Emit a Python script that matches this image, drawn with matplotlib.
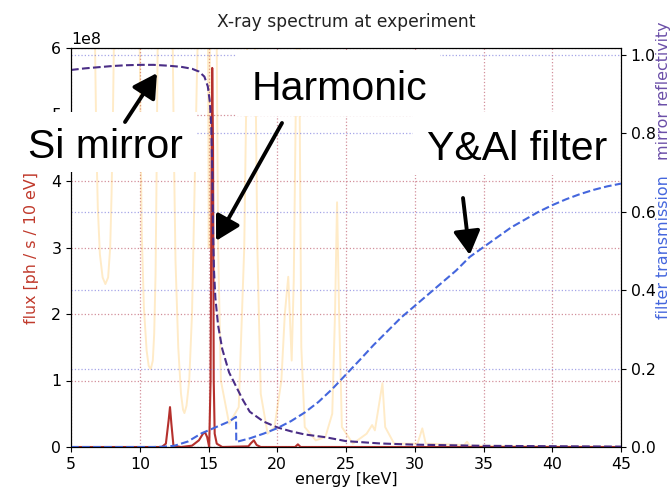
"""
X-ray spectrum at experiment: undulator flux, flux after Si mirror + Y&Al filter,
mirror reflectivity and filter transmission.
"""

import matplotlib
matplotlib.use("Agg")
import matplotlib.pyplot as plt
import numpy as np
from matplotlib.patches import Rectangle, ConnectionPatch

W, H = 671, 488  # figure size in pixels

# Colours
COR_FLUX = "#b5302c"
COR_LABEL_FLUX = "#c0392b"
COR_RAW = "orange"
COR_MIRROR = "#4a2d86"
COR_LABEL_MIRROR = "#6b4fa8"
COR_FILTER = "#4466dd"

# Undulator spectrum before optics [1e8 ph/s/10eV]; harmonic peaks go off scale
raw_energy = [5.0, 5.8, 6.4, 6.75, 6.85, 6.95, 7.1, 7.3, 7.5, 7.7, 7.85, 7.95,
              8.05, 8.15, 8.6, 9.2, 9.7, 10.0, 10.07, 10.15, 10.3, 10.5, 10.65,
              10.8, 10.95, 11.05, 11.15, 11.22, 11.3, 11.8, 12.2, 12.3, 12.4,
              12.48, 12.6, 12.8, 13.0, 13.15, 13.25, 13.4, 13.6, 13.8, 13.95,
              14.1, 14.2, 14.7, 14.95, 15.02, 15.1, 15.3, 15.5, 15.6, 15.7,
              15.9, 16.5, 17.2, 17.6, 17.8, 18.2, 18.4, 18.55, 18.8, 19.3,
              19.8, 20.3, 20.55, 20.8, 20.95, 21.05, 21.2, 21.4, 21.5, 21.6,
              21.75, 22.0, 22.8, 23.5, 24.0, 24.2, 24.35, 24.5, 24.7, 25.5,
              26.5, 26.9, 27.1, 27.45, 27.65, 27.85, 28.5, 30.2, 30.55, 30.8,
              33.6, 33.8, 34.0, 45.0]
raw_flux = [8.0, 11.0, 8.0, 6.0, 4.5, 3.6, 2.9, 2.55, 2.45, 2.55, 3.0, 3.8,
            5.0, 6.5, 10.0, 11.0, 8.0, 6.0, 4.5, 3.2, 2.1, 1.45, 1.22,
            1.17, 1.3, 1.7, 2.6, 4.0, 6.0, 12.0, 14.0, 9.0, 6.0,
            4.5, 2.8, 1.5, 0.8, 0.56, 0.51, 0.62, 1.0, 2.0, 3.5,
            5.0, 6.0, 12.0, 7.0, 3.0, 6.0, 20.0, 8.0, 6.0, 3.0,
            1.0, 0.35, 0.6, 3.0, 6.0, 12.0, 6.0, 3.0, 0.8, 0.2,
            0.3, 1.0, 2.0, 2.56, 1.8, 1.3, 2.5, 6.0, 9.0, 6.0,
            1.5, 0.3, 0.1, 0.15, 0.5, 2.0, 3.68, 2.0, 0.3, 0.05,
            0.2, 0.33, 0.25, 0.7, 0.96, 0.3, 0.05, 0.05, 0.28, 0.05,
            0.03, 0.08, 0.02, 0.0]

# Flux at experiment [1e8 ph/s/10eV]
flux_energy = [5.0, 11.6, 11.9, 12.1, 12.2, 12.3, 12.45, 13.0, 13.8, 14.3,
               14.6, 14.75, 14.9, 15.0, 15.05, 15.15, 15.22, 15.27, 15.33,
               15.38, 15.45, 15.6, 16.0, 17.9, 18.1, 18.3, 18.5, 18.8, 21.3,
               21.5, 21.7, 45.0]
flux_value = [0.0, 0.0, 0.05, 0.4, 0.6, 0.35, 0.02, 0.0, 0.02, 0.1,
              0.2, 0.22, 0.15, 0.05, 0.0, 1.0, 4.0, 5.7, 4.5,
              1.0, 0.2, 0.05, 0.0, 0.01, 0.06, 0.1, 0.03, 0.0, 0.0,
              0.04, 0.0, 0.0]

# Si mirror reflectivity
mirror_energy = [5.0, 6.0, 7.0, 8.0, 9.0, 10.0, 11.0, 12.0, 13.0, 13.8, 14.3,
                 14.7, 14.95, 15.1, 15.2, 15.28, 15.33, 15.4, 15.5, 15.7, 16.0,
                 16.5, 17.0, 17.5, 18.0, 19.0, 20.0, 21.0, 22.0, 23.5, 25.0,
                 27.5, 30.0, 35.0, 40.0, 45.0]
mirror_refl = [0.962, 0.966, 0.969, 0.972, 0.974, 0.975, 0.975, 0.973, 0.97,
               0.965, 0.958, 0.945, 0.92, 0.88, 0.82, 0.7, 0.55, 0.45, 0.38,
               0.31, 0.25, 0.19, 0.155, 0.12, 0.09, 0.065, 0.05, 0.04, 0.032,
               0.025, 0.015, 0.009, 0.006, 0.003, 0.002, 0.001]

# Y&Al filter transmission (Y K-edge at 17 keV)
filter_energy = [5.0, 11.0, 11.8, 12.5, 13.5, 14.5, 15.5, 16.5, 17.0, 17.02,
                 18.0, 19.0, 20.0, 21.0, 22.0, 23.0, 24.0, 25.0, 26.0, 27.0,
                 28.0, 29.0, 30.0, 31.0, 32.0, 33.0, 34.0, 35.0, 36.0, 37.0,
                 38.0, 39.0, 40.0, 41.0, 42.0, 43.0, 44.0, 45.0]
filter_trans = [0.0, 0.0, 0.001, 0.003, 0.014, 0.035, 0.05, 0.065, 0.077, 0.013,
                0.022, 0.034, 0.048, 0.066, 0.088, 0.115, 0.148, 0.185, 0.222,
                0.26, 0.295, 0.33, 0.36, 0.39, 0.42, 0.45, 0.485, 0.51, 0.535,
                0.56, 0.58, 0.6, 0.617, 0.632, 0.645, 0.656, 0.665, 0.672]


def px(x, y):
    """Pixel position (from top-left) -> figure fraction."""
    return (x / W, 1 - y / H)


fig = plt.figure(figsize=(W / 100, H / 100), dpi=100)
ax = fig.add_axes([71 / W, 1 - 447 / H, 550 / W, 399 / H])
ax2 = ax.twinx()

# Curves on the flux axis
ax.plot(raw_energy, np.array(raw_flux) * 1e8, color=COR_RAW, alpha=0.22, lw=1.4)
ax.plot(flux_energy, np.array(flux_value) * 1e8, color=COR_FLUX, lw=1.5)

# Curves on the right axis
ax2.plot(mirror_energy, mirror_refl, color=COR_MIRROR, ls="--", lw=1.5)
ax2.plot(filter_energy, filter_trans, color=COR_FILTER, ls="--", lw=1.5)

ax.set_xlim(5, 45)
ax.set_ylim(0, 6e8)
ax2.set_ylim(0, 1.018)

ax.grid(True, color="#c06070", ls=":", lw=0.9, alpha=0.7)
ax2.grid(True, color="#6a6ad8", ls=":", lw=0.9, alpha=0.6)

ax.tick_params(labelsize=11.3)
ax2.tick_params(labelsize=11.3)
ax.yaxis.get_offset_text().set_fontsize(11.3)

ax.set_xlabel("energy [keV]", fontsize=11.4, labelpad=0)
ax.set_ylabel("flux [ph / s / 10 eV]", fontsize=11.4, color=COR_LABEL_FLUX)
ax.yaxis.set_label_coords(-0.058, 0.5)
ax.set_title("X-ray spectrum at experiment", fontsize=12.3, pad=15, color="#222222")

ax2.text(1.078, 0.892, "mirror reflectivity", rotation=90, transform=ax.transAxes,
         ha="center", va="center", fontsize=11.4, color=COR_LABEL_MIRROR)
ax2.text(1.078, 0.50, "filter transmission", rotation=90, transform=ax.transAxes,
         ha="center", va="center", fontsize=11.4, color=COR_FILTER)

# White callout boxes with big labels (drawn over the axes)
caixas = [
    ((20, 112), (197, 172), "Si mirror", (28, 158)),
    ((237, 50), (440, 116), "Harmonic", (252, 100)),
    ((413, 112), (620, 175), "Y&Al filter", (427, 160)),
]
for (x0, y0), (x1, y1), texto, (tx, ty) in caixas:
    fig.add_artist(Rectangle(px(x0, y1), (x1 - x0) / W, (y1 - y0) / H,
                             transform=fig.transFigure, facecolor="white",
                             edgecolor="none", zorder=4))
    fig.text(*px(tx, ty), texto, fontsize=29.5, family="Liberation Sans",
             ha="left", va="baseline", color="black", zorder=4.5)

# Arrows
setas = [
    ((125, 122), (11.25, 0.954), ax2),
    ((282, 123), (15.55, 3.1e8), ax),
    ((463, 198), (34.0, 0.49), ax2),
]
for inicio, ponta, eixo in setas:
    fig.add_artist(ConnectionPatch(px(*inicio), ponta, coordsA="figure fraction",
                                   coordsB=eixo.transData,
                                   arrowstyle="-|>,head_length=0.8,head_width=0.45",
                                   mutation_scale=18, lw=2.8, color="black",
                                   zorder=5))

fig.savefig("out.png", dpi=100)
